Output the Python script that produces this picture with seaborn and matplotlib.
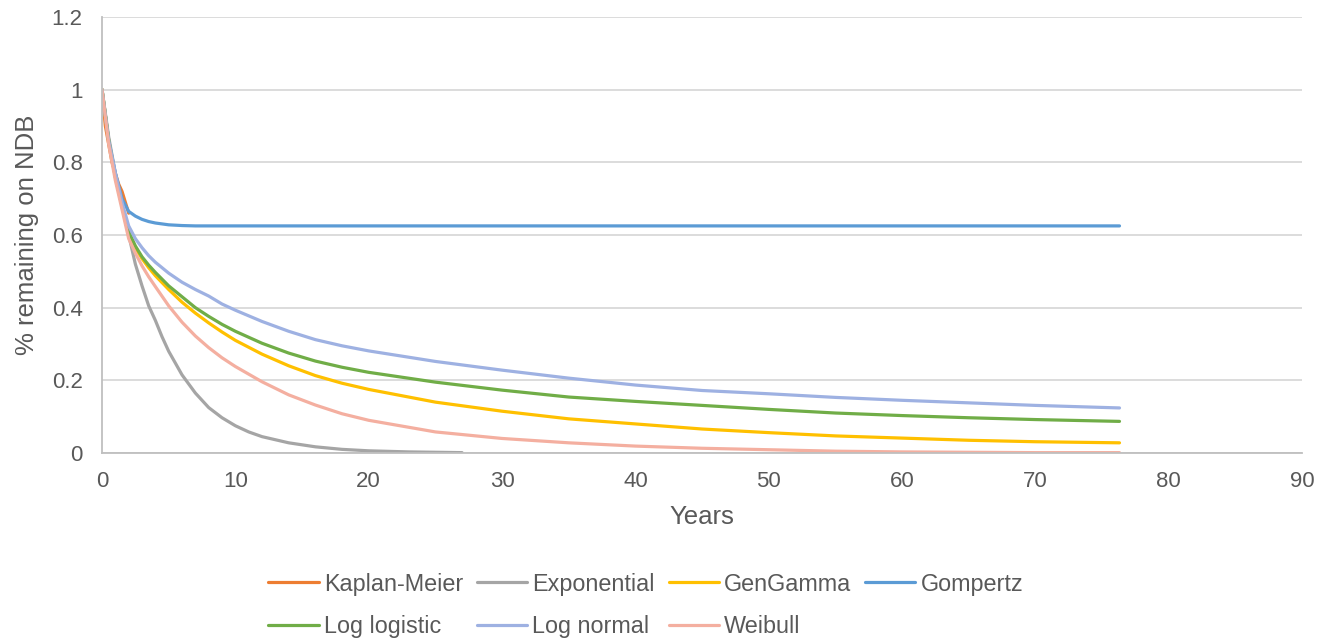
import numpy as np
import pandas as pd
import matplotlib
matplotlib.use("Agg")
import matplotlib.pyplot as plt
from matplotlib.lines import Line2D
import seaborn as sns

# Survival curves: proportion remaining on NDB by years since start
km_years = [0, 0.25, 0.5, 0.75, 1.0, 1.25, 1.5, 1.75, 2.0]
km_surv = [1.0, 0.90, 0.85, 0.80, 0.77, 0.74, 0.72, 0.69, 0.66]

exp_years = [0, 0.5, 1, 1.5, 2, 2.5, 3, 3.5, 4, 4.5, 5, 6, 7, 8, 9, 10, 11, 12,
             14, 16, 18, 20, 23, 27]
exp_surv = [1.0, 0.87, 0.77, 0.68, 0.60, 0.52, 0.46, 0.405, 0.365, 0.32, 0.28,
            0.215, 0.165, 0.125, 0.097, 0.075, 0.058, 0.045, 0.028, 0.017,
            0.010, 0.006, 0.003, 0.001]

years = [0, 0.5, 1, 1.5, 2, 2.5, 3, 3.5, 4, 5, 6, 7, 8, 9, 10, 12, 14, 16, 18,
         20, 25, 30, 35, 40, 45, 50, 55, 60, 65, 70, 76.3]
gengamma = [1.0, 0.86, 0.76, 0.68, 0.60, 0.565, 0.535, 0.51, 0.488, 0.45,
            0.415, 0.385, 0.358, 0.333, 0.31, 0.272, 0.24, 0.213, 0.192, 0.175,
            0.14, 0.115, 0.094, 0.08, 0.066, 0.056, 0.047, 0.041, 0.035, 0.031,
            0.028]
gompertz = [1.0, 0.86, 0.77, 0.70, 0.665, 0.652, 0.643, 0.637, 0.633, 0.628,
            0.626, 0.625, 0.625, 0.625, 0.625, 0.625, 0.625, 0.625, 0.625,
            0.625, 0.625, 0.625, 0.625, 0.625, 0.625, 0.625, 0.625, 0.625,
            0.625, 0.625, 0.625]
loglogistic = [1.0, 0.86, 0.76, 0.68, 0.61, 0.57, 0.54, 0.517, 0.497, 0.46,
               0.43, 0.40, 0.376, 0.354, 0.335, 0.302, 0.275, 0.253, 0.236,
               0.222, 0.195, 0.173, 0.154, 0.142, 0.131, 0.12, 0.11, 0.103,
               0.097, 0.092, 0.087]
lognormal = [1.0, 0.86, 0.77, 0.69, 0.625, 0.59, 0.565, 0.543, 0.525, 0.495,
             0.47, 0.45, 0.432, 0.41, 0.393, 0.362, 0.335, 0.312, 0.295, 0.281,
             0.252, 0.228, 0.206, 0.187, 0.172, 0.163, 0.153, 0.145, 0.138,
             0.131, 0.124]
weibull = [1.0, 0.85, 0.75, 0.67, 0.59, 0.55, 0.515, 0.485, 0.458, 0.405,
           0.36, 0.322, 0.29, 0.262, 0.238, 0.196, 0.16, 0.132, 0.108, 0.09,
           0.058, 0.04, 0.028, 0.019, 0.013, 0.009, 0.005, 0.003, 0.002,
           0.001, 0.001]

series_names = ["Kaplan-Meier", "Exponential", "GenGamma", "Gompertz",
                "Log logistic", "Log normal", "Weibull"]
series_colors = ["#ED7D31", "#A5A5A5", "#FFC000", "#5B9BD5",
                 "#70AD47", "#9EB1E2", "#F4AFA0"]

x_ticks = [0, 10, 20, 30, 40, 50, 60, 70, 80, 90]
y_ticks = [0, 0.2, 0.4, 0.6, 0.8, 1.0, 1.2]
y_tick_labels = ["0", "0.2", "0.4", "0.6", "0.8", "1", "1.2"]

frames = [
    pd.DataFrame({"Years": km_years, "value": km_surv, "model": "Kaplan-Meier"}),
    pd.DataFrame({"Years": exp_years, "value": exp_surv, "model": "Exponential"}),
    pd.DataFrame({"Years": years, "value": gengamma, "model": "GenGamma"}),
    pd.DataFrame({"Years": years, "value": gompertz, "model": "Gompertz"}),
    pd.DataFrame({"Years": years, "value": loglogistic, "model": "Log logistic"}),
    pd.DataFrame({"Years": years, "value": lognormal, "model": "Log normal"}),
    pd.DataFrame({"Years": years, "value": weibull, "model": "Weibull"}),
]
df = pd.concat(frames, ignore_index=True)

sns.set_theme(style="white")
plt.rcParams["font.family"] = ["Liberation Sans", "DejaVu Sans"]
text_color = "#595959"
tick_fs = 16
legend_fs = 16.8
title_fs = 18.5

fig = plt.figure(figsize=(13.18, 6.41), dpi=100)
ax = fig.add_axes([0.0774, 0.2933, 0.9106, 0.6802])

palette = dict(zip(series_names, series_colors))
sns.lineplot(data=df, x="Years", y="value", hue="model", hue_order=series_names,
             palette=palette, estimator=None, sort=False, linewidth=2.3,
             legend=False, ax=ax)

ax.set_xlim(0, 90)
ax.set_ylim(0, 1.2)
ax.set_xticks(x_ticks)
ax.set_yticks(y_ticks)
ax.set_yticklabels(y_tick_labels)
ax.tick_params(axis="both", length=0, labelsize=tick_fs, labelcolor=text_color)
ax.tick_params(axis="y", pad=14)
ax.tick_params(axis="x", pad=13)

ax.yaxis.grid(True, color="#D9D9D9", linewidth=1.3)
ax.xaxis.grid(False)
ax.set_axisbelow(True)
for side in ["top", "right"]:
    ax.spines[side].set_visible(False)
for side in ["left", "bottom"]:
    ax.spines[side].set_color("#BFBFBF")
    ax.spines[side].set_linewidth(1.3)

ax.set_xlabel("Years", fontsize=title_fs, color=text_color)
ax.set_ylabel("% remaining on NDB", fontsize=title_fs, color=text_color)
ax.xaxis.set_label_coords(0.5, -0.147)
ax.xaxis.label.set_verticalalignment("center")
ax.yaxis.set_label_coords(-0.0625, 0.5)
ax.yaxis.label.set_verticalalignment("center")

# Legend laid out row by row across four columns
order = [0, 4, 1, 5, 2, 6, 3]
handles = [Line2D([0], [0], color=series_colors[i], lw=2.3) for i in order]
labels = [series_names[i] for i in order]
leg = fig.legend(handles, labels, loc="center", bbox_to_anchor=(0.49, 0.0555),
                 ncol=4, frameon=False, fontsize=legend_fs, handlelength=2.15,
                 handletextpad=0.22, columnspacing=0.6, labelspacing=0.85)
for t in leg.get_texts():
    t.set_color(text_color)

fig.savefig("out.png", dpi=100)
